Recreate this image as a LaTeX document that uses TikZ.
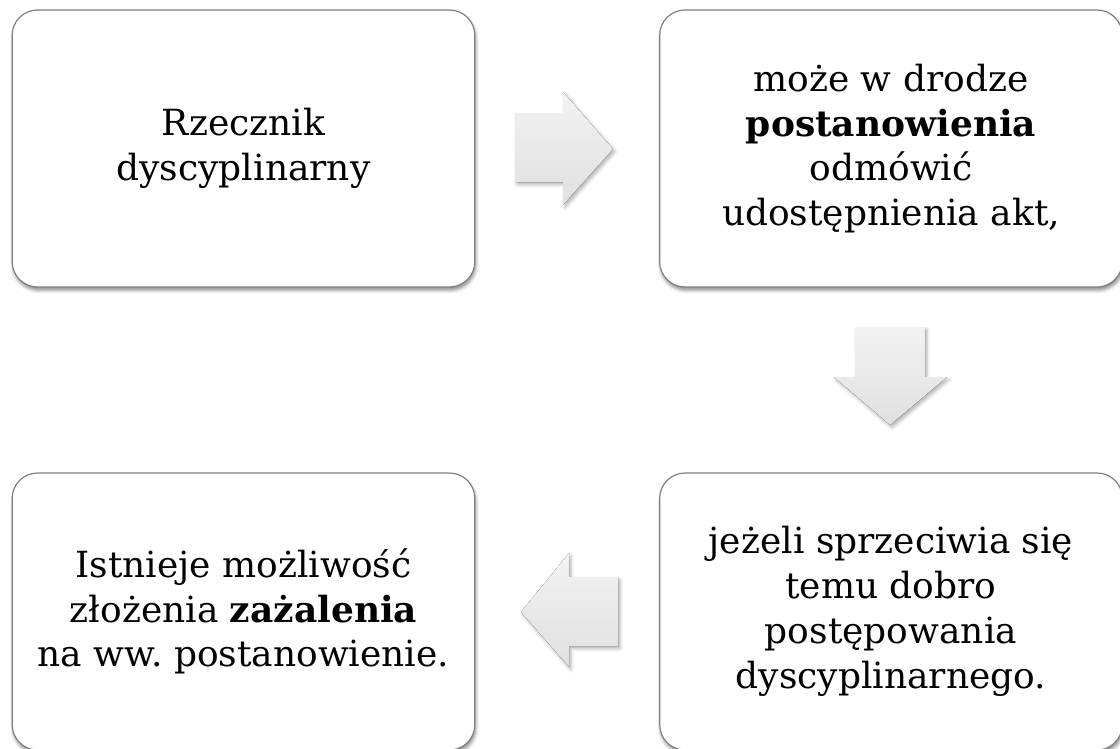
\documentclass[tikz,border=0pt]{standalone}
\usepackage{fontspec}
\setmainfont{DejaVu Serif}
\usepackage{tikz}
\usetikzlibrary{shadows.blur,calc}
\definecolor{boxline}{HTML}{7F7F7F}
\definecolor{arrowtop}{HTML}{F2F2F2}
\definecolor{arrowbot}{HTML}{E0E0E0}
\frenchspacing

\begin{document}
\begin{tikzpicture}[x=0.75pt,y=-0.75pt,
  card/.style={draw=boxline,line width=0.9pt,rounded corners=19pt,fill=white,
    minimum width=347pt,minimum height=207.75pt,align=center,inner sep=0pt,
    font=\fontsize{27}{33.6}\selectfont,
    blur shadow={shadow xshift=0.8pt,shadow yshift=-2.5pt,shadow blur radius=2.5pt,shadow opacity=45}},
  blockarrow/.style={top color=arrowtop,bottom color=arrowbot,draw=none,
    blur shadow={shadow xshift=1.5pt,shadow yshift=-2pt,shadow blur radius=2.5pt,shadow opacity=30}}]
  \useasboundingbox (0,0) rectangle (1120,749);
  % boxes
  \node[card] (rzecznik) at (243.5,148.5) {Rzecznik\\dyscyplinarny};
  \node[card] (odmowa) at (891,148.5) {może w drodze\\\textbf{postanowienia}\\odmówić\\udostępnienia akt,};
  \node[card] (dobro) at (891,611.5) {jeżeli sprzeciwia się\\temu dobro\\postępowania\\dyscyplinarnego.};
  \node[card] (zazalenie) at (243.5,611.5) {Istnieje możliwość\\złożenia \textbf{zażalenia}\\na ww. postanowienie.};
  % arrows
  \fill[blockarrow] (515,113) -- (563,113) -- (563,92) -- (613,149) -- (563,205) -- (563,182) -- (515,182) -- cycle;
  \fill[blockarrow] (855,327) -- (925,327) -- (925,377) -- (947,377) -- (890,425) -- (834,377) -- (855,377) -- cycle;
  \fill[blockarrow] (618,577) -- (569,577) -- (569,553) -- (521,612) -- (569,667) -- (569,646) -- (618,646) -- cycle;
\end{tikzpicture}
\end{document}
